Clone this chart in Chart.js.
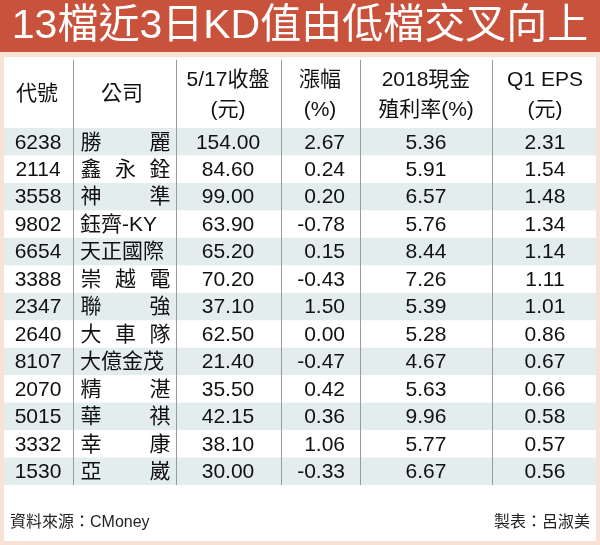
<!DOCTYPE html><html><head><meta charset="utf-8">
<script src="https://cdn.jsdelivr.net/npm/chart.js@4"></script>
<style>body{margin:0;background:#f7e2d5}canvas{display:block}</style></head><body>
<div style="width:600px;height:545px"><canvas id="c"></canvas></div>
<script>
const title = "13檔近3日KD值由低檔交叉向上";
const headers = [["代號"],["公司"],["5/17收盤","(元)"],["漲幅","(%)"],["2018現金","殖利率(%)"],["Q1 EPS","(元)"]];
const codes = ["6238","2114","3558","9802","6654","3388","2347","2640","8107","2070","5015","3332","1530"];
const companies = ["勝麗","鑫永銓","神準","鈺齊-KY","天正國際","崇越電","聯強","大車隊","大億金茂","精湛","華祺","幸康","亞崴"];
const closes = [154.00,84.60,99.00,63.90,65.20,70.20,37.10,62.50,21.40,35.50,42.15,38.10,30.00];
const changes = [2.67,0.24,0.20,-0.78,0.15,-0.43,1.50,0.00,-0.47,0.42,0.36,1.06,-0.33];
const yields = [5.36,5.91,6.57,5.76,8.44,7.26,5.39,5.28,4.67,5.63,9.96,5.77,6.67];
const eps = [2.31,1.54,1.48,1.34,1.14,1.11,1.01,0.86,0.67,0.66,0.58,0.57,0.56];
const source = "資料來源：CMoney";
const maker = "製表：呂淑美";
const F = '"Liberation Sans","Noto Sans CJK TC",sans-serif';
const tablePlugin = {id:'tbl', beforeDraw(ch){
  const g=ch.ctx, y=ch.scales.y, W=ch.width;
  g.save();
  g.fillStyle='#f7e2d5';g.fillRect(0,0,W,ch.height);
  g.fillStyle='#c8523c';g.fillRect(0,0,W,52);
  g.fillStyle='#fff';g.font='41px '+F;g.textAlign='center';g.textBaseline='middle';
  g.fillText(title,W/2,27);
  g.fillStyle='#fff';g.fillRect(4,57,592,484);
  const rowH=y.getPixelForValue(1)-y.getPixelForValue(0);
  codes.forEach((c,i)=>{ if(i%2===0){const cy=y.getPixelForValue(i);g.fillStyle='#e3edee';g.fillRect(4,cy-rowH/2,592,rowH);} });
  const top=60, bot=y.getPixelForValue(codes.length-1)+rowH/2;
  g.strokeStyle='#9a9a9a';g.lineWidth=1;
  [73,176,281,360,492].forEach(x=>{g.beginPath();g.moveTo(x+.5,top);g.lineTo(x+.5,bot);g.stroke();});
  g.fillStyle='#111';g.font='21px '+F;
  const hc=[37,122,228,320,426,545];
  headers.forEach((h,k)=>{ if(h.length===1) g.fillText(h[0],hc[k],94); else {g.fillText(h[0],hc[k],80);g.fillText(h[1],hc[k],110);} });
  g.font='21px '+F;
  codes.forEach((c,i)=>{
    const cy=y.getPixelForValue(i)+1;
    g.textAlign='center';
    g.fillText(c,38,cy);
    g.fillText(closes[i].toFixed(2),228,cy);
    g.fillText(yields[i].toFixed(2),426,cy);
    g.fillText(eps[i].toFixed(2),545,cy);
    g.textAlign='right';g.fillText(changes[i].toFixed(2),345,cy);
    const n=companies[i], chars=[...n];
    if(chars.length<=3){
      const L=91,R=160; chars.forEach((chr,j)=>{g.textAlign='center';g.fillText(chr,L+(R-L)*j/(chars.length-1),cy);});
    } else {g.textAlign='left';g.fillText(n,80,cy);}
  });
  g.font='16px '+F;g.textAlign='left';g.fillStyle='#222';
  g.fillText(source,10,523);g.textAlign='right';g.fillText(maker,590,523);
  g.restore();
}};
new Chart(document.getElementById('c'),{type:'bar',
  data:{labels:codes,datasets:[{data:eps,backgroundColor:'rgba(0,0,0,0)'}]},
  options:{responsive:true,maintainAspectRatio:false,animation:false,indexAxis:'y',
    layout:{padding:{top:128,bottom:60,left:0,right:0}},
    plugins:{legend:{display:false},tooltip:{enabled:false}},
    scales:{y:{display:false},x:{display:false}}},
  plugins:[tablePlugin]});
</script></body></html>
